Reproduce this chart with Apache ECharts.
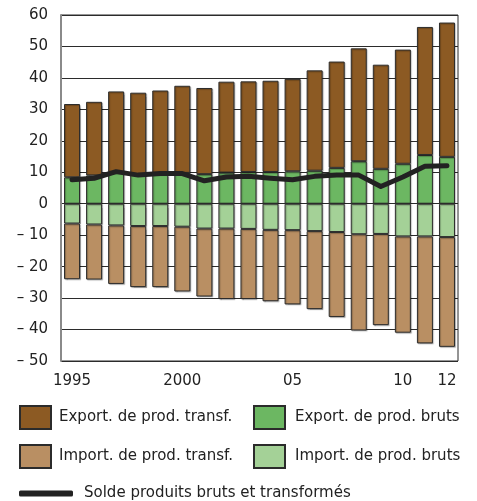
<!DOCTYPE html>
<html>
<head>
<meta charset="utf-8">
<script src="https://cdn.jsdelivr.net/npm/echarts@6/dist/echarts.min.js"></script>
<style>
html,body{margin:0;padding:0;background:#fff;}
#chart{width:477px;height:501px;}
</style>
</head>
<body>
<div id="chart"></div>
<script>
var years = ['1995','1996','1997','1998','1999','2000','2001','2002','2003','2004','2005','2006','2007','2008','2009','2010','2011','2012'];
var tickYears = ['1995','2000','2005','2010','2012'];
var tickLabels = ['1995','2000','05','10','12'];

var exportBruts  = [8.4, 9.0, 10.0, 9.4, 9.5, 9.8, 9.4, 9.9, 10.1, 10.1, 10.3, 10.5, 11.4, 13.5, 11.1, 12.7, 15.5, 14.9];
var exportTransf = [23.3, 23.4, 25.7, 25.9, 26.5, 27.7, 27.4, 28.9, 28.8, 29.0, 29.4, 31.9, 33.8, 35.9, 33.1, 36.3, 40.7, 42.7];
var importBruts  = [-6.3, -6.6, -6.9, -7.1, -7.1, -7.3, -7.9, -7.9, -8.0, -8.3, -8.4, -8.7, -9.0, -9.7, -9.6, -10.4, -10.4, -10.6];
var importTransf = [-17.7, -17.5, -18.6, -19.4, -19.4, -20.6, -21.6, -22.4, -22.3, -22.7, -23.6, -24.8, -27.0, -30.6, -29.0, -30.6, -34.0, -34.9];
var solde        = [7.6, 8.1, 10.2, 9.1, 9.6, 9.6, 7.3, 8.5, 8.7, 8.1, 7.6, 8.7, 9.1, 9.1, 5.5, 8.5, 11.9, 12.1];

var names = {
  et: 'Export. de prod. transf.',
  eb: 'Export. de prod. bruts',
  it: 'Import. de prod. transf.',
  ib: 'Import. de prod. bruts',
  s: 'Solde produits bruts et transformés'
};
var colors = { et: '#8c5a23', eb: '#6cb762', it: '#b98f63', ib: '#a4d197' };
var FONT = 'DejaVu Sans, sans-serif';

function bar(key, data) {
  return {
    name: names[key], type: 'bar', stack: 'all', data: data,
    barWidth: 16,
    itemStyle: { color: colors[key], borderColor: '#2b2b2b', borderWidth: 1, shadowColor: 'rgba(0,0,0,0.25)', shadowBlur: 1, shadowOffsetX: 1, shadowOffsetY: 1 },
    emphasis: { disabled: true }
  };
}

var chart = echarts.init(document.getElementById('chart'), null, { renderer: 'canvas' });
chart.setOption({
  animation: false,
  backgroundColor: '#fff',
  textStyle: { fontFamily: FONT },
  grid: { left: 61, right: 19, top: 15, bottom: 140, show: true, borderColor: '#2b2b2b', borderWidth: 1 },
  xAxis: {
    type: 'category', data: years,
    axisLine: { show: false, onZero: false },
    axisTick: { show: false },
    axisLabel: {
      interval: function (i, v) { return tickYears.indexOf(v) >= 0; },
      formatter: function (v) { var k = tickYears.indexOf(v); return k >= 0 ? tickLabels[k] : ''; },
      color: '#222', fontSize: 15, fontFamily: FONT, margin: 13
    }
  },
  yAxis: {
    type: 'value', min: -50, max: 60, interval: 10,
    axisLine: { show: true, lineStyle: { color: '#8a8a8a', width: 2 } },
    axisTick: { show: false },
    splitLine: { lineStyle: { color: '#2b2b2b', width: 1 } },
    axisLabel: {
      color: '#222', fontSize: 15, fontFamily: FONT, margin: 13,
      formatter: function (v) { return v < 0 ? '\u2013 ' + Math.abs(v) : String(v); }
    }
  },
  legend: [
    {
      left: 14, top: 400, orient: 'vertical', itemGap: 14, itemWidth: 31, itemHeight: 23,
      icon: 'rect', selectedMode: false,
      data: [names.et, names.it],
      textStyle: { fontSize: 15, color: '#222', fontFamily: FONT, padding: [0, 0, 0, 3] }
    },
    {
      left: 248, top: 400, orient: 'vertical', itemGap: 14, itemWidth: 31, itemHeight: 23,
      icon: 'rect', selectedMode: false,
      data: [names.eb, names.ib],
      textStyle: { fontSize: 15, color: '#222', fontFamily: FONT, padding: [0, 0, 0, 5] }
    },
    {
      left: 14, top: 481, itemWidth: 54, itemHeight: 6, icon: 'roundRect', selectedMode: false,
      data: [names.s],
      textStyle: { fontSize: 15, color: '#222', fontFamily: FONT, padding: [0, 0, 10, 6] }
    }
  ],
  series: [
    bar('eb', exportBruts),
    bar('et', exportTransf),
    bar('ib', importBruts),
    bar('it', importTransf),
    {
      name: names.s, type: 'line', data: solde, z: 10,
      showSymbol: false, symbol: 'none',
      lineStyle: { color: '#222', width: 5, cap: 'round', join: 'round' },
      itemStyle: { color: '#222' },
      emphasis: { disabled: true }
    }
  ]
});
</script>
</body>
</html>
